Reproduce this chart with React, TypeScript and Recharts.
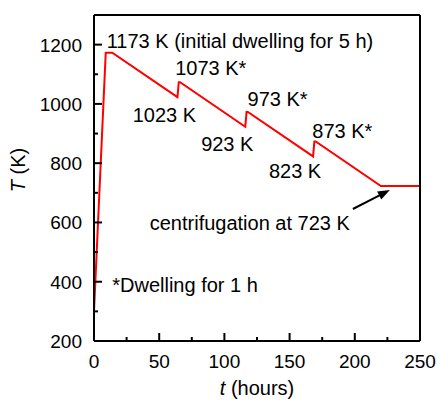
import React from 'react';
import {
  LineChart,
  Line,
  XAxis,
  YAxis,
  ReferenceDot,
  Label,
} from 'recharts';

// heat-treatment profile: time (h) vs temperature (K)
const timeHours = [0, 9, 14, 64, 65, 66, 116, 117, 118, 168, 169, 170, 220, 250];
const temperatureK = [300, 1173, 1173, 1023, 1073, 1073, 923, 973, 973, 823, 873, 873, 723, 723];

const xTicks = [0, 25, 50, 75, 100, 125, 150, 175, 200, 225, 250];
const yTicks = [200, 300, 400, 500, 600, 700, 800, 900, 1000, 1100, 1200];

// step labels, anchored on the profile vertices they describe
const stepLabels = [
  { text: '1173 K (initial dwelling for 5 h)', t: 9, T: 1173, dx: 1, dy: -12, anchor: 'start' },
  { text: '1073 K*', t: 65, T: 1073, dx: 32, dy: -14, anchor: 'middle' },
  { text: '1023 K', t: 64, T: 1023, dx: -13, dy: 18, anchor: 'middle' },
  { text: '973 K*', t: 117, T: 973, dx: 31, dy: -13, anchor: 'middle' },
  { text: '923 K', t: 116, T: 923, dx: -18, dy: 17, anchor: 'middle' },
  { text: '873 K*', t: 169, T: 873, dx: 28, dy: -11, anchor: 'middle' },
  { text: '823 K', t: 168, T: 823, dx: -18, dy: 15, anchor: 'middle' },
  { text: 'centrifugation at 723 K', t: 220, T: 723, dx: -31, dy: 37, anchor: 'end' },
];

const noteText = '*Dwelling for 1 h';
const notePos = { t: 14, T: 389 };

const data = timeHours.map((t, i) => ({ t, T: temperatureK[i] }));

const FONT = '"Liberation Sans", Arial, Helvetica, sans-serif';
const TICK_FS = 19;
const TEXT_FS = 20;
const MAJOR = 8;
const MINOR = 4;

const renderBottomTick = (props: any) => {
  const { x, y, payload } = props;
  const major = payload.value % 50 === 0;
  return (
    <g>
      <path d={`M${x},${y}V${y - (major ? MAJOR : MINOR)}`} stroke="#000" strokeWidth={2} fill="none" />
      {major && (
        <text x={x} y={y + 27} textAnchor="middle" fontSize={TICK_FS} fontFamily={FONT} fill="#000">
          {payload.value}
        </text>
      )}
    </g>
  );
};

const renderTopTick = (props: any) => {
  const { x, y, payload } = props;
  const major = payload.value % 50 === 0;
  return <path d={`M${x},${y}V${y + (major ? MAJOR : MINOR)}`} stroke="#000" strokeWidth={2} fill="none" />;
};

const renderLeftTick = (props: any) => {
  const { x, y, payload } = props;
  const major = payload.value % 200 === 0;
  return (
    <g>
      <path d={`M${x},${y}H${x + (major ? MAJOR : MINOR)}`} stroke="#000" strokeWidth={2} fill="none" />
      {major && (
        <text x={x - 12} y={y + 7} textAnchor="end" fontSize={TICK_FS} fontFamily={FONT} fill="#000">
          {payload.value}
        </text>
      )}
    </g>
  );
};

const renderRightTick = (props: any) => {
  const { x, y, payload } = props;
  const major = payload.value % 200 === 0;
  return <path d={`M${x},${y}H${x - (major ? MAJOR : MINOR)}`} stroke="#000" strokeWidth={2} fill="none" />;
};

const xTitle = (props: any) => {
  const { x, y, width } = props.viewBox;
  return (
    <text x={x + width / 2} y={y + 54} textAnchor="middle" fontSize={TEXT_FS} fontFamily={FONT} fill="#000">
      <tspan fontStyle="italic">t</tspan> (hours)
    </text>
  );
};

const yTitle = (props: any) => {
  const { x, y, height } = props.viewBox;
  const cx = x - 16;
  const cy = y + height / 2 - 8;
  return (
    <text
      x={cx}
      y={cy}
      transform={`rotate(-90 ${cx} ${cy})`}
      textAnchor="middle"
      dominantBaseline="central"
      fontSize={TEXT_FS}
      fontFamily={FONT}
      fill="#000"
    >
      <tspan fontStyle="italic">T</tspan> (K)
    </text>
  );
};

const tagShape = (text: string, dx: number, dy: number, anchor: string) => (props: any) => (
  <text
    x={props.cx + dx}
    y={props.cy + dy + 7}
    textAnchor={anchor}
    fontSize={TEXT_FS}
    fontFamily={FONT}
    fill="#000"
  >
    {text}
  </text>
);

// arrow pointing from the centrifugation label to the start of the 723 K hold
const arrowShape = (props: any) => {
  const x1 = props.cx - 28;
  const y1 = props.cy + 23;
  const x2 = props.cx + 9;
  const y2 = props.cy + 4;
  const len = Math.hypot(x2 - x1, y2 - y1);
  const ux = (x2 - x1) / len;
  const uy = (y2 - y1) / len;
  const head = 12;
  const half = 4.5;
  const bx = x2 - ux * head;
  const by = y2 - uy * head;
  return (
    <g>
      <line x1={x1} y1={y1} x2={bx + ux * 2} y2={by + uy * 2} stroke="#000" strokeWidth={2} />
      <polygon
        points={`${x2},${y2} ${bx - uy * half},${by + ux * half} ${bx + uy * half},${by - ux * half}`}
        fill="#000"
      />
    </g>
  );
};

const axisStroke = { stroke: '#000', strokeWidth: 2 };

const App: React.FC = () => {
  return (
    <div style={{ position: 'absolute', left: 0, top: 0, background: '#fff' }}>
      <LineChart width={438} height={400} data={data} margin={{ top: 14, right: 17, left: 34, bottom: 29 }}>
        <XAxis
          dataKey="t"
          type="number"
          domain={[0, 250]}
          ticks={xTicks}
          interval={0}
          height={30}
          tickLine={false}
          tickSize={0}
          tickMargin={0}
          tick={renderBottomTick}
          axisLine={axisStroke}
        >
          <Label content={xTitle} />
        </XAxis>
        <XAxis
          xAxisId="top"
          orientation="top"
          type="number"
          domain={[0, 250]}
          ticks={xTicks}
          interval={0}
          height={1}
          tickLine={false}
          tickSize={0}
          tickMargin={0}
          tick={renderTopTick}
          axisLine={axisStroke}
        />
        <YAxis
          type="number"
          domain={[200, 1300]}
          ticks={yTicks}
          interval={0}
          width={60}
          tickLine={false}
          tickSize={0}
          tickMargin={0}
          tick={renderLeftTick}
          axisLine={axisStroke}
        >
          <Label content={yTitle} />
        </YAxis>
        <YAxis
          yAxisId="right"
          orientation="right"
          type="number"
          domain={[200, 1300]}
          ticks={yTicks}
          interval={0}
          width={1}
          tickLine={false}
          tickSize={0}
          tickMargin={0}
          tick={renderRightTick}
          axisLine={axisStroke}
        />
        <Line
          type="linear"
          dataKey="T"
          stroke="#ff0000"
          strokeWidth={2}
          dot={false}
          isAnimationActive={false}
        />
        {stepLabels.map((s) => (
          <ReferenceDot
            key={s.text}
            x={s.t}
            y={s.T}
            r={0}
            shape={tagShape(s.text, s.dx, s.dy, s.anchor)}
          />
        ))}
        <ReferenceDot x={notePos.t} y={notePos.T} r={0} shape={tagShape(noteText, 0, 0, 'start')} />
        <ReferenceDot x={220} y={723} r={0} shape={arrowShape} />
      </LineChart>
    </div>
  );
};

export default App;
